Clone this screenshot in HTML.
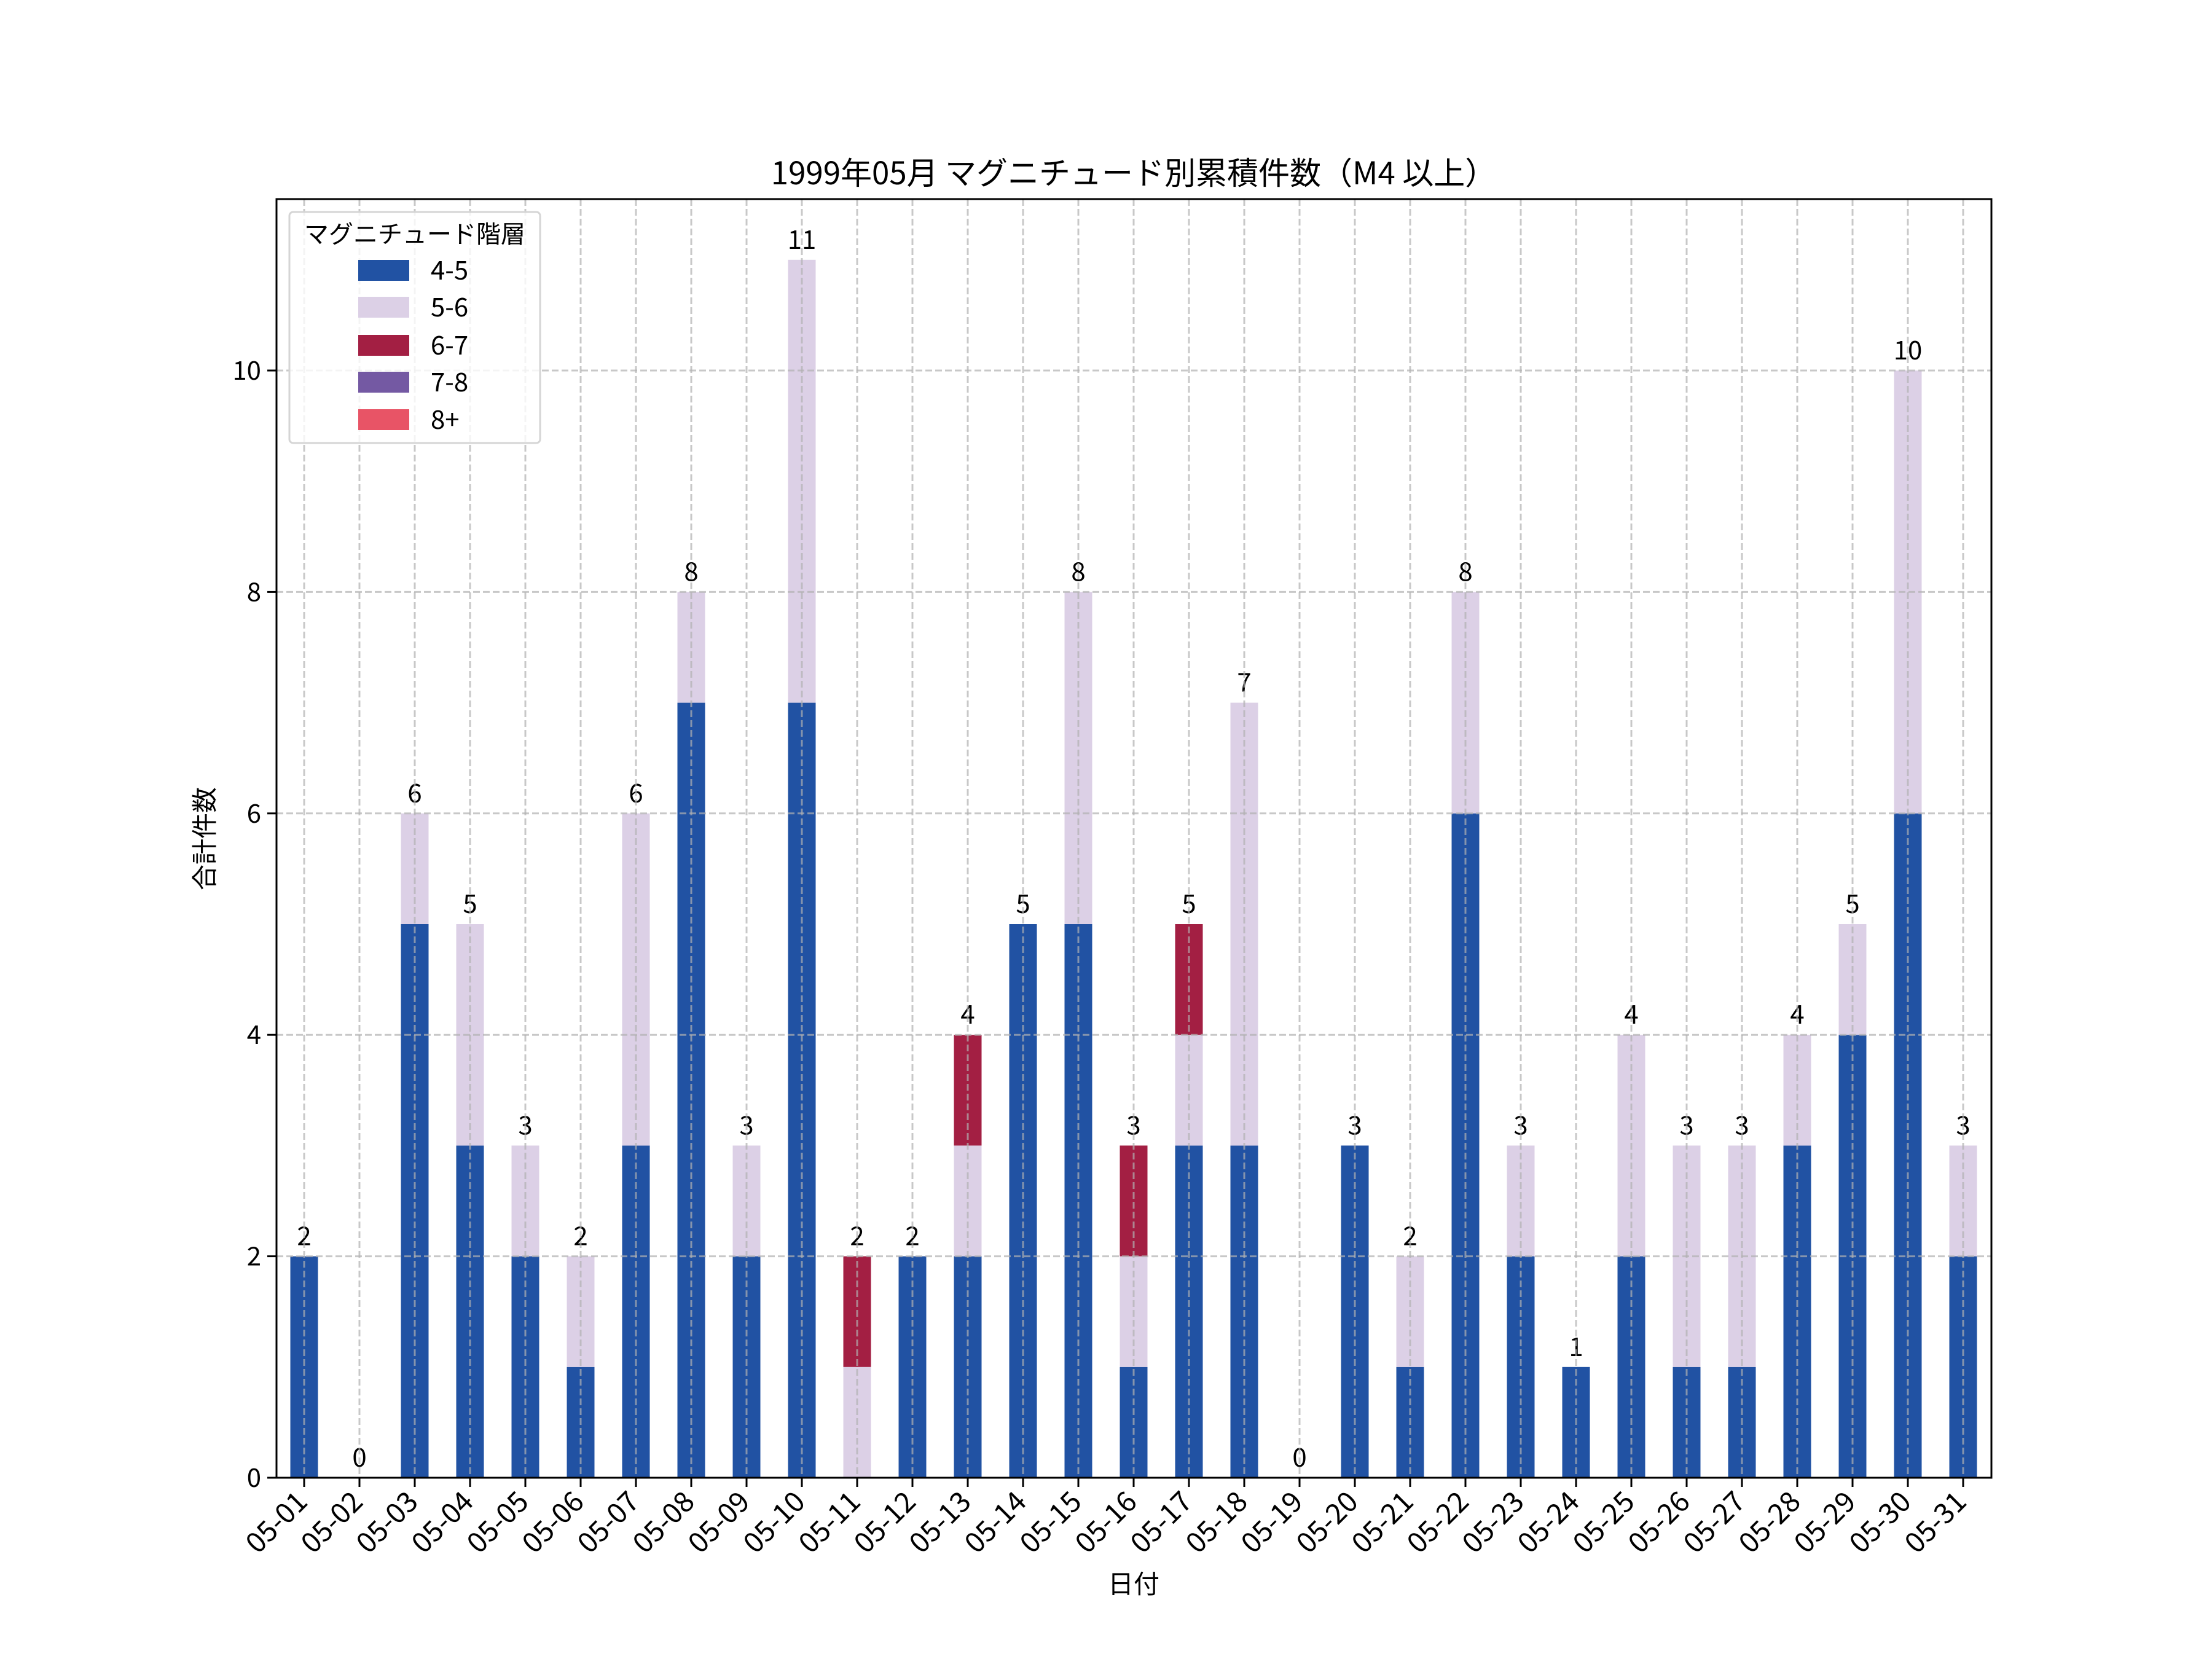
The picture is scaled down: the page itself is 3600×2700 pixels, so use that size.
<!DOCTYPE html>
<html><head><meta charset="utf-8"><style>html,body{margin:0;padding:0;background:#fff}svg{display:block}text{font-family:"Noto Sans CJK JP","Liberation Sans",sans-serif;fill:#000}</style></head>
<body>
<svg id="s" width="3600" height="2700" xmlns="http://www.w3.org/2000/svg"></svg>
<script>
const s=document.getElementById('s');let h='';
const L=450,R=3241,T=324,B=2405,U=180.2;
const data=[[2,0,0],[0,0,0],[5,1,0],[3,2,0],[2,1,0],[1,1,0],[3,3,0],[7,1,0],[2,1,0],[7,4,0],[0,1,1],[2,0,0],[2,1,1],[5,0,0],[5,3,0],[1,1,1],[3,1,1],[3,4,0],[0,0,0],[3,0,0],[1,1,0],[6,2,0],[2,1,0],[1,0,0],[2,2,0],[1,2,0],[1,2,0],[3,1,0],[4,1,0],[6,4,0],[2,1,0]];
const C=['#2152a3','#dcd0e6','#a31f43','#7459a3','#e85466'];
h+=`<rect x="${L}" y="${T}" width="${R-L}" height="${B-T}" fill="#fff"/>`;
data.forEach((d,i)=>{const x=495+90*i;let y=B;d.forEach((v,k)=>{if(v>0){h+=`<rect x="${x-22.5}" y="${y-v*U}" width="45" height="${v*U}" fill="${C[k]}"/>`;y-=v*U;}});
const t=d[0]+d[1]+d[2];h+=`<text x="${x}" y="${B-t*U-18}" font-size="42" text-anchor="middle">${t}</text>`;});
for(let i=0;i<31;i++){const x=495+90*i;h+=`<line x1="${x}" y1="${T}" x2="${x}" y2="${B}" stroke="#b0b0b0" stroke-opacity="0.7" stroke-width="3" stroke-dasharray="11,5"/>`;}
for(let v=0;v<=10;v+=2){const y=B-v*U;h+=`<line x1="${L}" y1="${y}" x2="${R}" y2="${y}" stroke="#b0b0b0" stroke-opacity="0.7" stroke-width="3" stroke-dasharray="11,5"/>`;
h+=`<line x1="${L-15}" y1="${y}" x2="${L}" y2="${y}" stroke="#000" stroke-width="3"/><text x="${L-25}" y="${y+15}" font-size="42" text-anchor="end">${v}</text>`;}
for(let i=0;i<31;i++){const x=495+90*i;const dd=String(i+1).padStart(2,'0');
h+=`<line x1="${x}" y1="${B}" x2="${x}" y2="${B+15}" stroke="#000" stroke-width="3"/>`;
h+=`<text transform="translate(${x+8},${B+42}) rotate(-45)" font-size="46" text-anchor="end">05-${dd}</text>`;}
h+=`<rect x="${L}" y="${T}" width="${R-L}" height="${B-T}" fill="none" stroke="#000" stroke-width="3"/>`;
h+=`<rect x="471" y="345" width="408" height="376" rx="6" fill="#fff" fill-opacity="0.8" stroke="#d5d5d5" stroke-width="3"/>`;
h+=`<text x="675" y="395" font-size="40" text-anchor="middle">マグニチュード階層</text>`;
const labs=['4-5','5-6','6-7','7-8','8+'];const ys=[440,500,562,622,683];
labs.forEach((l,k)=>{h+=`<rect x="583" y="${ys[k]-17}" width="83" height="34" fill="${C[k]}"/><text x="701" y="${ys[k]+15}" font-size="42">${l}</text>`;});
h+=`<text x="1845" y="300" font-size="51" text-anchor="middle">1999年05月 マグニチュード別累積件数（M4 以上）</text>`;
h+=`<text x="1845" y="2593" font-size="42" text-anchor="middle">日付</text>`;
h+=`<text transform="translate(348,1365) rotate(-90)" font-size="42" text-anchor="middle">合計件数</text>`;
s.innerHTML=h;
</script>
</body></html>
